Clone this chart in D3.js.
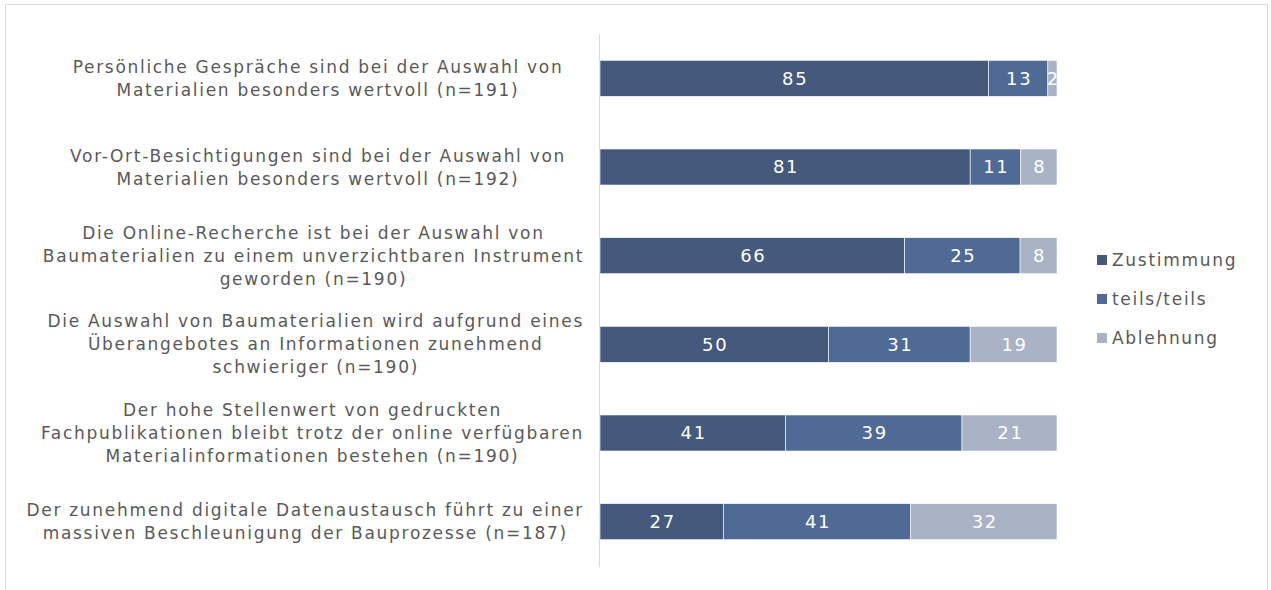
<!DOCTYPE html>
<html>
<head>
<meta charset="utf-8">
<script src="https://cdn.jsdelivr.net/npm/d3@7"></script>
<style>
    html, body { margin: 0; padding: 0; background: #ffffff; }
    svg { display: block; }
</style>
</head>
<body>
<svg id="chart" width="1271" height="590"></svg>
<script>
"use strict";

// chart data (percent)
const statements = [
    ["Persönliche Gespräche sind bei der Auswahl von", "Materialien besonders wertvoll (n=191)"],
    ["Vor-Ort-Besichtigungen sind bei der Auswahl von", "Materialien besonders wertvoll (n=192)"],
    ["Die Online-Recherche ist bei der Auswahl von", "Baumaterialien zu einem unverzichtbaren Instrument", "geworden (n=190)"],
    ["Die Auswahl von Baumaterialien wird aufgrund eines", "Überangebotes an Informationen zunehmend", "schwieriger (n=190)"],
    ["Der hohe Stellenwert von gedruckten", "Fachpublikationen bleibt trotz der online verfügbaren", "Materialinformationen bestehen (n=190)"],
    ["Der zunehmend digitale Datenaustausch führt zu einer", "massiven Beschleunigung der Bauprozesse (n=187)"]
];
const seriesNames = ["Zustimmung", "teils/teils", "Ablehnung"];
const zustimmung = [85, 81, 66, 50, 41, 27];
const teils = [13, 11, 25, 31, 39, 41];
const ablehnung = [2, 8, 8, 19, 21, 32];

const colors = ["#44597b", "#4f6b95", "#a9b3c5"];
const textColor = "#595959";
const fontFamily = "'DejaVu Sans', Verdana, sans-serif";
const spacing = "1.7px";

const svg = d3.select("#chart");

// build rows for the stack
let rows = statements.map(function (s, i) {
    return { id: i, Zustimmung: zustimmung[i], "teils/teils": teils[i], Ablehnung: ablehnung[i] };
});

// 100% stacked bar
let stacked = d3.stack()
    .keys(seriesNames)
    .offset(d3.stackOffsetExpand)(rows);

// scales
let x = d3.scaleLinear()
    .domain([0, 1])
    .range([600, 1057]);
let y = d3.scaleBand()
    .domain(rows.map(function (d) { return d.id; }))
    .range([34, 566])
    .paddingInner(0.594)
    .paddingOuter(0.297);

// outer frame
svg.append("rect")
    .attr("x", 5.5)
    .attr("y", 4.5)
    .attr("width", 1262)
    .attr("height", 620)
    .attr("fill", "none")
    .attr("stroke", "#d9d9d9")
    .attr("stroke-width", 1);

// category axis line
svg.append("line")
    .attr("x1", 599.5)
    .attr("x2", 599.5)
    .attr("y1", 34)
    .attr("y2", 567)
    .attr("stroke", "#d9d9d9")
    .attr("stroke-width", 1);

// bar segments
let groups = svg.append("g")
    .selectAll("g")
    .data(stacked)
    .enter().append("g")
    .attr("fill", function (d, i) { return colors[i]; });

groups.selectAll("rect")
    .data(function (d) { return d; })
    .enter().append("rect")
    .attr("x", function (d) { return x(d[0]); })
    .attr("y", function (d) { return y(d.data.id); })
    .attr("width", function (d) { return x(d[1]) - x(d[0]); })
    .attr("height", y.bandwidth())
    .attr("stroke", "#ffffff")
    .attr("stroke-width", 0.6);

// value labels
groups.selectAll("text")
    .data(function (d) { return d.map(function (v) { return { v: v, key: d.key }; }); })
    .enter().append("text")
    .attr("x", function (d) { return (x(d.v[0]) + x(d.v[1])) / 2 + 1; })
    .attr("y", function (d) { return y(d.v.data.id) + y.bandwidth() / 2; })
    .attr("dy", "0.36em")
    .attr("text-anchor", "middle")
    .attr("fill", "#ffffff")
    .style("font-family", fontFamily)
    .style("font-size", "18px")
    .style("letter-spacing", spacing)
    .text(function (d) { return d.v.data[d.key]; });

// category labels, centered blocks kept left of the axis
function addCategoryLabels() {
    const lineHeight = 23;
    statements.forEach(function (lines, i) {
        let t = svg.append("text")
            .attr("text-anchor", "middle")
            .attr("fill", textColor)
            .style("font-family", fontFamily)
            .style("font-size", "17px")
            .style("letter-spacing", spacing);
        let cy = y(i) + y.bandwidth() / 2;
        let top = cy - (lines.length - 1) * lineHeight / 2;
        lines.forEach(function (line, j) {
            t.append("tspan")
                .attr("y", top + j * lineHeight)
                .attr("dy", "0.36em")
                .text(line);
        });
        // measure widest line and place block
        let maxW = 0;
        t.selectAll("tspan").each(function () {
            maxW = Math.max(maxW, this.getComputedTextLength());
        });
        let cx = Math.min(318, 584 - maxW / 2);
        t.selectAll("tspan").attr("x", cx);
    });
}
addCategoryLabels();

// legend
let legend = svg.append("g")
    .selectAll("g")
    .data(seriesNames)
    .enter().append("g")
    .attr("transform", function (d, i) { return "translate(1097," + (260 + i * 39) + ")"; });

legend.append("rect")
    .attr("x", 0)
    .attr("y", -5)
    .attr("width", 10)
    .attr("height", 10)
    .attr("fill", function (d, i) { return colors[i]; });

legend.append("text")
    .attr("x", 15)
    .attr("y", 0)
    .attr("dy", "0.36em")
    .attr("fill", textColor)
    .style("font-family", fontFamily)
    .style("font-size", "17px")
    .style("letter-spacing", spacing)
    .text(function (d) { return d; });
</script>
</body>
</html>
